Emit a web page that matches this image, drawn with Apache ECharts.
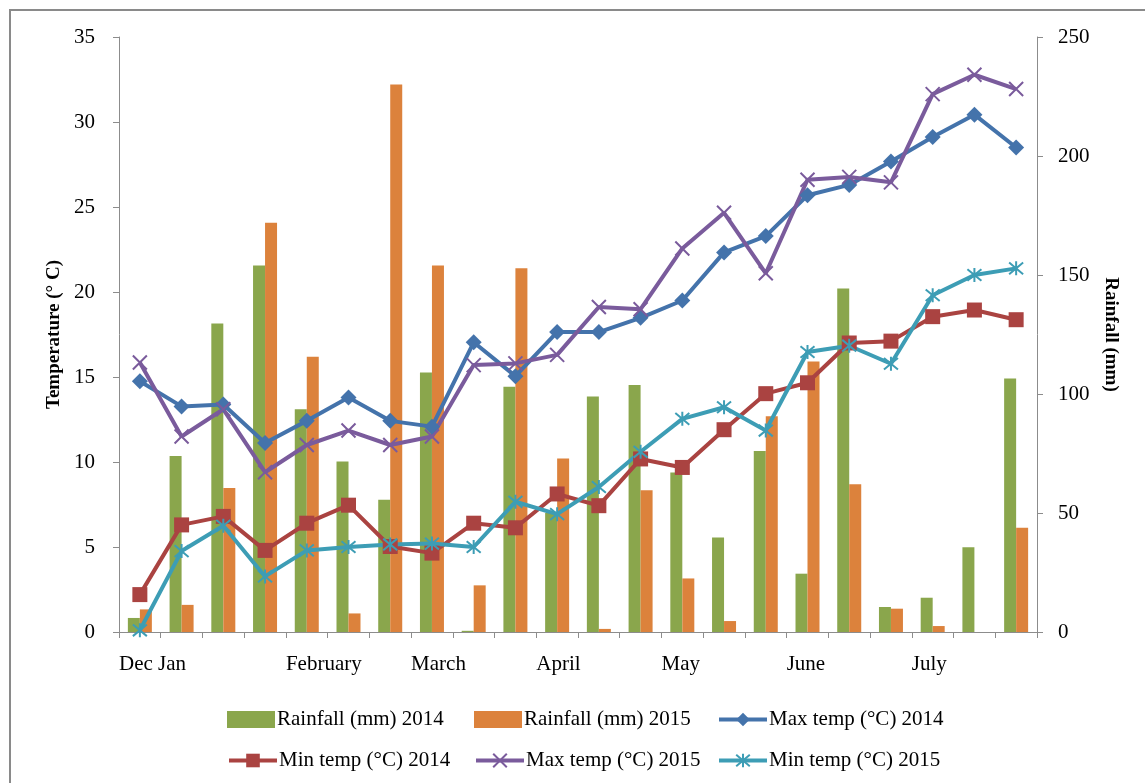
<!DOCTYPE html>
<html>
<head>
<meta charset="utf-8">
<script src="https://cdn.jsdelivr.net/npm/echarts/dist/echarts.min.js"></script>
<style>
  html, body { margin: 0; padding: 0; background: #fff; }
  #weatherChart { width: 1145px; height: 783px; }
</style>
</head>
<body>
<div id="weatherChart"></div>
<script>
    // 22 periods, Dec -> July
    const periods = ['1','2','3','4','5','6','7','8','9','10','11','12','13','14','15','16','17','18','19','20','21','22'];
    // month labels sit on the tick boundaries (23 of them)
    const monthTicks = ['Dec Jan','','','','February','','','March','','','April','','','May','','','June','','','July','','',''];

    const rain2014 = [5.9, 73.9, 129.6, 154, 93.6, 71.6, 55.6, 109, 0.5, 103, 50, 98.9, 103.8, 67, 39.7, 76, 24.5, 144.3, 10.5, 14.4, 35.6, 106.5];
    const rain2015 = [9.5, 11.4, 60.5, 172, 115.7, 7.8, 230, 154, 19.6, 152.8, 72.9, 1.3, 59.6, 22.5, 4.6, 90.7, 113.7, 62.1, 9.8, 2.5, 0, 43.8];
    const maxTemp2014 = [14.75, 13.27, 13.38, 11.12, 12.42, 13.8, 12.42, 12.08, 17.04, 15.05, 17.64, 17.64, 18.48, 19.5, 22.33, 23.29, 25.69, 26.3, 27.68, 29.12, 30.43, 28.5];
    const minTemp2014 = [2.2, 6.3, 6.8, 4.8, 6.4, 7.46, 5.03, 4.64, 6.4, 6.13, 8.12, 7.43, 10.18, 9.68, 11.9, 14.02, 14.66, 17.0, 17.11, 18.55, 18.94, 18.37];
    const maxTemp2015 = [15.85, 11.5, 13.1, 9.4, 11.0, 11.85, 11.0, 11.5, 15.7, 15.8, 16.3, 19.12, 18.99, 22.56, 24.66, 21.1, 26.6, 26.77, 26.45, 31.64, 32.78, 31.94];
    const minTemp2015 = [0.1, 4.76, 6.25, 3.27, 4.8, 5.0, 5.15, 5.2, 5.0, 7.66, 6.93, 8.53, 10.6, 12.54, 13.22, 11.85, 16.47, 16.84, 15.78, 19.81, 21.0, 21.39];

    const font = 'Liberation Serif';
    const axisGray = '#8c8c8c';
    const xMark = 'path://M0,0L10,10M10,0L0,10';
    const starMark = 'path://M0,0L10,10M10,0L0,10M5,-1L5,11';

    function lineSeries(name, data, color, symbol, size) {
        return {
            name: name,
            type: 'line',
            yAxisIndex: 0,
            data: data,
            symbol: symbol,
            symbolSize: size,
            showAllSymbol: true,
            lineStyle: { color: color, width: 4 },
            itemStyle: { color: color, borderColor: color, borderWidth: symbol.indexOf('path') === 0 ? 2 : 0 },
            z: 3
        };
    }

    let series = [
        { name: 'Rainfall (mm) 2014', type: 'bar', yAxisIndex: 1, data: rain2014, barWidth: 12, barGap: '0%', itemStyle: { color: '#8aa64c' } },
        { name: 'Rainfall (mm) 2015', type: 'bar', yAxisIndex: 1, data: rain2015, barWidth: 12, barGap: '0%', itemStyle: { color: '#dc823c' } },
        lineSeries('Max temp (°C) 2014', maxTemp2014, '#4473ab', 'diamond', 16),
        lineSeries('Min temp (°C) 2014', minTemp2014, '#aa4341', 'rect', 15),
        lineSeries('Max temp (°C) 2015', maxTemp2015, '#7a5b9c', xMark, 14),
        lineSeries('Min temp (°C) 2015', minTemp2015, '#3d9db5', starMark, 14)
    ];

    // one legend per entry so the two rows line up in columns like the original
    const legendCols = [222, 469, 712];
    const legendRows = [704, 745];
    let legends = series.map((s, i) => ({
        data: [{ name: s.name, icon: s.type === 'bar' ? 'rect' : undefined }],
        left: legendCols[i % 3],
        top: legendRows[Math.floor(i / 3)],
        itemWidth: 48,
        itemHeight: 17,
        itemGap: 0,
        lineStyle: { width: 4 },
        textStyle: { fontFamily: font, fontSize: 21, color: '#000', padding: [0, 0, 0, -3] }
    }));

    let myChart = echarts.init(document.getElementById('weatherChart'));
    let option = {
        animation: false,
        backgroundColor: '#fff',
        graphic: [{
            type: 'rect',
            shape: { x: 10, y: 10, width: 1160, height: 800 },
            style: { fill: 'none', stroke: '#8a8a8a', lineWidth: 2 },
            silent: true
        }],
        legend: legends,
        grid: { left: 119, right: 108, top: 37, bottom: 151 },
        xAxis: [
            {
                type: 'category',
                data: periods,
                boundaryGap: true,
                axisLine: { lineStyle: { color: axisGray } },
                axisTick: { show: true, length: 6, lineStyle: { color: axisGray } },
                axisLabel: { show: false },
                splitLine: { show: false }
            },
            {
                // label-only axis, ticks on category boundaries
                type: 'category',
                position: 'bottom',
                data: monthTicks,
                boundaryGap: false,
                axisLine: { show: false },
                axisTick: { show: false },
                splitLine: { show: false },
                axisLabel: { interval: 0, align: 'left', margin: 22, fontFamily: font, fontSize: 21, color: '#000' }
            }
        ],
        yAxis: [
            {
                type: 'value',
                min: 0, max: 35, interval: 5,
                name: 'Temperature (° C)',
                nameLocation: 'middle',
                nameGap: 52,
                nameTextStyle: { fontFamily: font, fontSize: 19, fontWeight: 'bold', color: '#000' },
                axisLine: { show: true, lineStyle: { color: axisGray } },
                axisTick: { show: true, length: 6, lineStyle: { color: axisGray } },
                axisLabel: { margin: 24, fontFamily: font, fontSize: 21, color: '#000' },
                splitLine: { show: false }
            },
            {
                type: 'value',
                position: 'right',
                min: 0, max: 250, interval: 50,
                name: 'Rainfall (mm)',
                nameLocation: 'middle',
                nameRotate: -90,
                nameGap: 64,
                nameTextStyle: { fontFamily: font, fontSize: 19, fontWeight: 'bold', color: '#000' },
                axisLine: { show: true, lineStyle: { color: axisGray } },
                axisTick: { show: true, length: 6, lineStyle: { color: axisGray } },
                axisLabel: { margin: 21, fontFamily: font, fontSize: 21, color: '#000' },
                splitLine: { show: false }
            }
        ],
        series: series
    };

    // 绘制图表
    myChart.setOption(option);
</script>
</body>
</html>
